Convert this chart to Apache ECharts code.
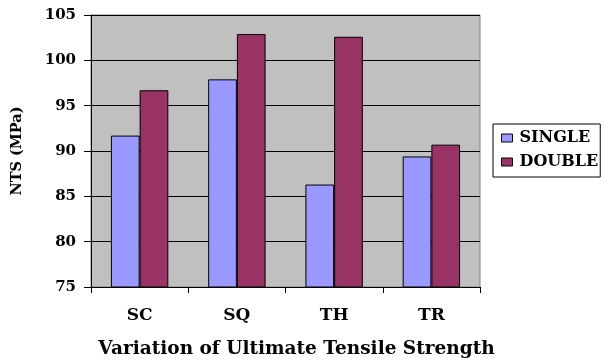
<!DOCTYPE html>
<html><head><meta charset="utf-8">
<script src="https://cdn.jsdelivr.net/npm/echarts@6/dist/echarts.min.js"></script>
<style>html,body{margin:0;padding:0;background:#fff}#c{width:605px;height:362px}</style>
</head><body><div id="c"></div>
<script>
const categories = ['SC', 'SQ', 'TH', 'TR'];
const singleValues = [91.7, 97.9, 86.3, 89.4];
const doubleValues = [96.7, 102.9, 102.6, 90.7];
const seriesNames = ['SINGLE', 'DOUBLE'];
const yTitle = 'NTS (MPa)';
const xTitle = 'Variation of Ultimate Tensile Strength';

const FONT = 'DejaVu Serif';
const chart = echarts.init(document.getElementById('c'), null, {renderer: 'canvas'});
chart.setOption({
  animation: false,
  backgroundColor: '#ffffff',
  grid: {left: 91, right: 125, top: 15, bottom: 75, containLabel: false, outerBoundsMode: 'none',
         show: true, backgroundColor: '#c0c0c0', borderColor: '#808080', borderWidth: 1},
  legend: {
    orient: 'vertical', left: 493, top: 124,
    padding: [6, 2, 7, 8], itemGap: 8, itemWidth: 11, itemHeight: 8,
    borderColor: '#000', borderWidth: 1, backgroundColor: '#fff',
    icon: 'rect',
    itemStyle: {borderColor: '#000', borderWidth: 1},
    textStyle: {fontFamily: FONT, fontWeight: 'bold', fontSize: 16, color: '#000', padding: [0,0,0,2]},
    data: seriesNames
  },
  xAxis: {
    type: 'category', data: categories,
    name: xTitle, nameLocation: 'middle', nameGap: 53,
    nameTextStyle: {fontFamily: FONT, fontWeight: 'bold', fontSize: 18.5, color: '#000', padding: [0,0,0,22]},
    axisLine: {lineStyle: {color: '#000', width: 1}},
    axisTick: {show: true, length: 6, lineStyle: {color: '#000'}},
    axisLabel: {fontFamily: FONT, fontWeight: 'bold', fontSize: 17, color: '#000', margin: 20}
  },
  yAxis: {
    type: 'value', min: 75, max: 105, interval: 5,
    name: yTitle, nameLocation: 'middle', nameGap: 66,
    nameTextStyle: {fontFamily: FONT, fontWeight: 'bold', fontSize: 14.5, color: '#000'},
    axisLine: {show: true, lineStyle: {color: '#000', width: 1}},
    axisTick: {show: true, length: 7, lineStyle: {color: '#000'}},
    axisLabel: {fontFamily: FONT, fontWeight: 'bold', fontSize: 15, color: '#000', margin: 15},
    splitLine: {show: true, lineStyle: {color: '#000', width: 1}}
  },
  series: [
    {name: seriesNames[0], type: 'bar', data: singleValues, barGap: '0%', barCategoryGap: '41%',
     itemStyle: {color: '#9999ff', borderColor: '#000', borderWidth: 1}},
    {name: seriesNames[1], type: 'bar', data: doubleValues, barGap: '0%', barCategoryGap: '41%',
     itemStyle: {color: '#993366', borderColor: '#000', borderWidth: 1}}
  ]
});
</script></body></html>
